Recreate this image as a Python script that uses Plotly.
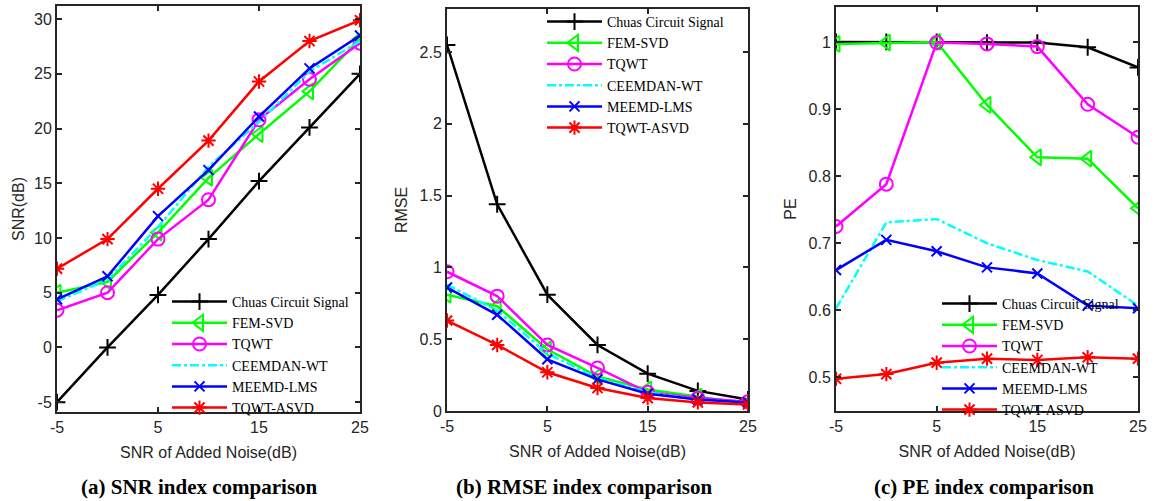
import plotly.graph_objects as go

W, H = 1158, 501

x_noise = [-5, 0, 5, 10, 15, 20, 25]
names = ["Chuas Circuit Signal", "FEM-SVD", "TQWT", "CEEMDAN-WT", "MEEMD-LMS", "TQWT-ASVD"]

snr_chuas = [-5, 0, 4.8, 9.9, 15.2, 20.1, 25.0]
snr_fem = [5.0, 6.0, 10.5, 15.5, 19.5, 23.4, 28.2]
snr_tqwt = [3.4, 5.0, 9.9, 13.5, 20.8, 24.5, 27.8]
snr_ceemdan = [4.2, 6.2, 11.0, 16.5, 20.6, 25.2, 28.0]
snr_meemd = [4.4, 6.5, 12.0, 16.2, 21.1, 25.5, 28.5]
snr_asvd = [7.2, 9.9, 14.5, 18.9, 24.3, 28.0, 29.9]

rmse_chuas = [2.55, 1.44, 0.81, 0.46, 0.26, 0.14, 0.08]
rmse_fem = [0.81, 0.73, 0.43, 0.24, 0.15, 0.10, 0.05]
rmse_tqwt = [0.97, 0.80, 0.46, 0.30, 0.13, 0.09, 0.065]
rmse_ceemdan = [0.88, 0.70, 0.40, 0.23, 0.13, 0.08, 0.06]
rmse_meemd = [0.86, 0.67, 0.36, 0.22, 0.12, 0.08, 0.06]
rmse_asvd = [0.63, 0.46, 0.27, 0.16, 0.09, 0.06, 0.045]

pe_chuas = [1.0, 1.0, 1.0, 0.999, 0.999, 0.992, 0.962]
pe_fem = [0.997, 0.999, 1.0, 0.906, 0.828, 0.826, 0.752]
pe_tqwt = [0.725, 0.788, 0.999, 0.997, 0.993, 0.907, 0.858]
pe_ceemdan = [0.603, 0.731, 0.736, 0.700, 0.675, 0.658, 0.607]
pe_meemd = [0.660, 0.705, 0.688, 0.664, 0.655, 0.607, 0.603]
pe_asvd = [0.498, 0.505, 0.522, 0.528, 0.526, 0.530, 0.528]

x_ticks = [-5, 5, 15, 25]
x_ticktext = ["-5", "5", "15", "25"]
snr_ticks = [-5, 0, 5, 10, 15, 20, 25, 30]
snr_ticktext = ["-5", "0", "5", "10", "15", "20", "25", "30"]
rmse_ticks = [0, 0.5, 1, 1.5, 2, 2.5]
rmse_ticktext = ["0", "0.5", "1", "1.5", "2", "2.5"]
pe_ticks = [0.5, 0.6, 0.7, 0.8, 0.9, 1]
pe_ticktext = ["0.5", "0.6", "0.7", "0.8", "0.9", "1"]

captions = ["(a) SNR index comparison", "(b) RMSE index comparison", "(c) PE index comparison"]
ytitles = ["SNR(dB)", "RMSE", "PE"]
xtitle = "SNR of Added Noise(dB)"

colors = ["#000000", "#00FF00", "#FF00FF", "#00FFFF", "#0000FF", "#FF0000"]
symbols = ["cross-thin-open", "triangle-left-open", "circle-open", None, "x-thin-open", "asterisk-open"]
msizes = [12, 14, 13, 0, 10, 12]
dashes = ["solid", "solid", "solid", "dashdot", "solid", "solid"]

panels = [
    [snr_chuas, snr_fem, snr_tqwt, snr_ceemdan, snr_meemd, snr_asvd],
    [rmse_chuas, rmse_fem, rmse_tqwt, rmse_ceemdan, rmse_meemd, rmse_asvd],
    [pe_chuas, pe_fem, pe_tqwt, pe_ceemdan, pe_meemd, pe_asvd],
]
yranges = [[-5.9, 31.2], [0, 2.8], [0.45, 1.052]]
yticks = [snr_ticks, rmse_ticks, pe_ticks]
ytexts = [snr_ticktext, rmse_ticktext, pe_ticktext]

# pixel boxes: left, right, top, bottom
boxes = [(57, 360, 6, 412), (447, 748, 9, 411), (836, 1138, 7, 411)]

def px(x):
    return x / W

def py(y):
    return 1 - y / H

fig = go.Figure()
legend_names = ["legend", "legend2", "legend3"]
for p in range(3):
    ax = "" if p == 0 else str(p + 1)
    for i in range(6):
        mode = "lines" if symbols[i] is None else "lines+markers"
        marker = dict(symbol=symbols[i], size=msizes[i], color=colors[i],
                      line=dict(width=2, color=colors[i])) if symbols[i] else None
        fig.add_trace(go.Scatter(
            x=x_noise, y=panels[p][i], name=names[i], mode=mode,
            line=dict(color=colors[i], width=2.5, dash=dashes[i]),
            marker=marker,
            xaxis="x" + ax, yaxis="y" + ax, legend=legend_names[p],
        ))

tick_font = dict(family="Liberation Sans, Arial", size=16, color="#262626")
axis_common = dict(showline=True, linecolor="#262626", linewidth=2, mirror="ticks",
                   ticks="inside", ticklen=5, tickwidth=2, tickcolor="#262626",
                   showgrid=False, zeroline=False, automargin=False,
                   tickfont=tick_font)

layout = dict(width=W, height=H, margin=dict(l=0, r=0, t=0, b=0, autoexpand=False),
              paper_bgcolor="white", plot_bgcolor="white", showlegend=True)

# legend anchor (left, top) in pixels
legend_pos = [(167, 286), (542, 6), (937, 288)]
ytitle_standoff = [5, 8, 8]
for p in range(3):
    l, r, t, b = boxes[p]
    ax = "" if p == 0 else str(p + 1)
    layout["xaxis" + ax] = dict(axis_common, domain=[px(l), px(r)], range=[-5, 25],
                                tickvals=x_ticks, ticktext=x_ticktext, anchor="y" + ax,
                                title=dict(text=xtitle, standoff=12, font=tick_font))
    layout["yaxis" + ax] = dict(axis_common, domain=[py(b), py(t)], range=yranges[p],
                                tickvals=yticks[p], ticktext=ytexts[p], anchor="x" + ax,
                                title=dict(text=ytitles[p], standoff=ytitle_standoff[p], font=tick_font))
    lx, ly = legend_pos[p]
    layout[legend_names[p]] = dict(x=px(lx), y=py(ly), xanchor="left", yanchor="top",
                                   bgcolor="rgba(0,0,0,0)", borderwidth=0,
                                   font=dict(family="Liberation Serif, Times New Roman", size=14, color="#000000"),
                                   itemwidth=55, tracegroupgap=0)

fig.update_layout(**layout)

cap_x = [199, 584, 984]
for p in range(3):
    fig.add_annotation(text="<b>" + captions[p] + "</b>", x=px(cap_x[p]), y=py(487),
                       xref="paper", yref="paper", showarrow=False, xanchor="center", yanchor="middle",
                       font=dict(family="Liberation Serif, Times New Roman", size=21, color="#000000"))

fig.write_html("out.html")
